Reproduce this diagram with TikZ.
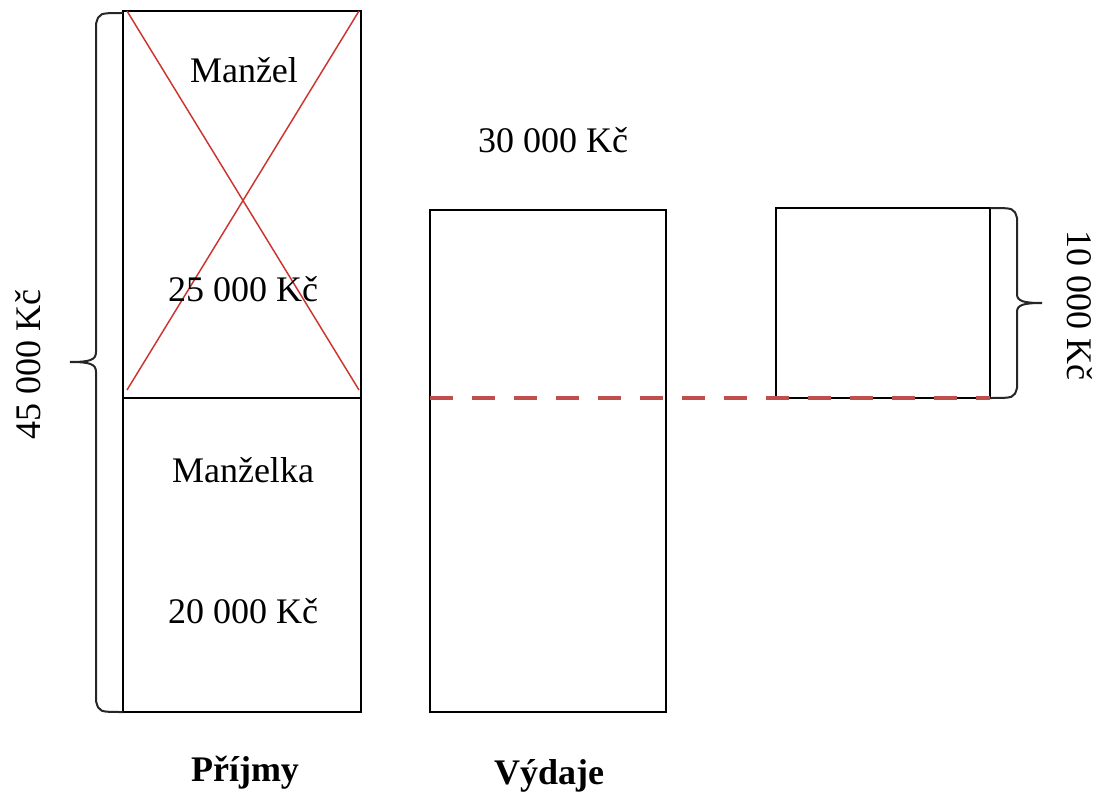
\documentclass[tikz,border=0pt]{standalone}
\usepackage{fontspec}
\setmainfont{Liberation Serif}
\usetikzlibrary{positioning}
\definecolor{crossred}{RGB}{204,52,48}
\definecolor{dashred}{RGB}{192,78,76}
\tikzset
{
    box/.style      = {draw=black, line width=1.5pt},
    label/.style    = {align=center, font=\fontsize{27}{32}\selectfont},
    title/.style    = {align=center, font=\fontsize{27}{32}\selectfont\bfseries},
    crossline/.style = {draw=crossred, line width=1.1pt},
    gapline/.style  = {draw=dashred, line width=3.5pt, dash pattern=on 17pt off 14.5pt},
    sumbrace/.style = {draw=black!85, line width=1.5pt}
}

\begin{document}
\begin{tikzpicture}[x=0.75pt, y=-0.75pt]
\useasboundingbox (0,0) rectangle (1101,792);
% corners of the columns
\coordinate (inTop) at (123,11);
\coordinate (inMid) at (361,398);
\coordinate (inBot) at (123,712);
\coordinate (inMidL) at (123,398);
\coordinate (inRight) at (361,712);
\coordinate (outTop) at (430,210);
\coordinate (outBot) at (666,712);
\coordinate (gapTop) at (776,208);
\coordinate (gapBot) at (990,398);

% income
\draw[box] (inTop) rectangle (inRight);
\draw[box] (inMidL) -- (inMid);
\draw[crossline] (127,11) -- (359,390);
\draw[crossline] (359,11) -- (127,390);
\node[label] (manzel) at (244,70) {Manžel};
\node[label] (manzelSum) at (243,289) {25 000 Kč};
\node[label] (manzelka) at (243,470) {Manželka};
\node[label] (manzelkaSum) at (243,611) {20 000 Kč};
\node[title] (prijmy) at (245,773) {Příjmy};

% expenses
\draw[box] (outTop) rectangle (outBot);
\node[label] (vydajeSum) at (553,140) {30 000 Kč};
\node[title] (vydaje) at (549,776) {Výdaje};

% missing part
\draw[box] (gapTop) rectangle (gapBot);
\draw[gapline] (430,398) -- (gapBot);

% braces
\draw[sumbrace] (123,13) .. controls (99,13) .. (96,24) -- (96,352)
    .. controls (96,360) and (90,362) .. (70,362)
    .. controls (90,362) and (96,364) .. (96,372) -- (96,701)
    .. controls (99,712) .. (123,712);
\node[label, rotate=90] (total) at (28,365) {45 000 Kč};
\draw[sumbrace] (990,208) .. controls (1014,208) .. (1017,218) -- (1017,294)
    .. controls (1017,301) and (1023,303) .. (1042,303)
    .. controls (1023,303) and (1017,305) .. (1017,312) -- (1017,388)
    .. controls (1014,398) .. (gapBot);
\node[label, rotate=-90] (gap) at (1080,305) {10 000 Kč};
\end{tikzpicture}
\end{document}
